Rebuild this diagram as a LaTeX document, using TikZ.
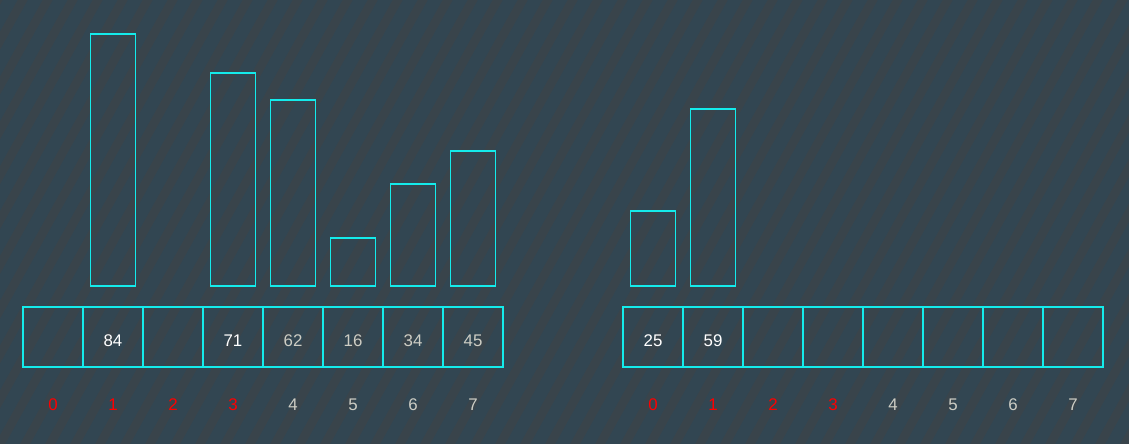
\documentclass[tikz,border=0pt]{standalone}
\usepackage{fontspec}
\setmainfont{Liberation Sans}
\definecolor{bgslate}{RGB}{50,70,82}
\definecolor{stripebrown}{RGB}{74,66,62}
\definecolor{cellcyan}{RGB}{20,235,235}
\definecolor{palegray}{RGB}{205,205,196}
\definecolor{idxred}{RGB}{255,0,0}
\tikzset{
  cell/.style={draw=cellcyan,line width=0.75pt,minimum size=1.2cm,inner sep=0pt,outer sep=0pt},
  bar/.style={draw=cellcyan,line width=0.75pt},
  val/.style={font=\fontsize{9.6}{10}\selectfont,inner sep=0pt},
  idx/.style={font=\fontsize{9.6}{10}\selectfont,inner sep=0pt},
  stripe/.style={draw=stripebrown,line width=5pt,opacity=0.3},
}
\begin{document}
\begin{tikzpicture}[x=0.02cm,y=-0.02cm]
    % background
    \useasboundingbox (0,0) rectangle (1129,443);
    \fill[bgslate] (-10,-10) rectangle (1139,453);
    \begin{scope}
      \clip (-10,-10) rectangle (1139,453);
      \foreach \s in {-320,-295,...,1150}
        \draw[stripe] (\s,480)--++(290,-520);
    \end{scope}
    % left array
    \foreach \i in {0,...,7}
      \node[cell] (l\i) at (53+60*\i,337) {};
    \foreach \i/\v/\c in {1/84/white,3/71/white,4/62/palegray,5/16/palegray,6/34/palegray,7/45/palegray}{
      \draw[bar] (30.5+60*\i,286) rectangle (75.5+60*\i,286-3*\v);
      \node[val,text=\c] (lv\i) at (53+60*\i,341) {\v};
    }
    % right array
    \foreach \i in {0,...,7}
      \node[cell] (r\i) at (653+60*\i,337) {};
    \foreach \i/\v in {0/25,1/59}{
      \draw[bar] (630.5+60*\i,286) rectangle (675.5+60*\i,286-3*\v);
      \node[val,text=white] (rv\i) at (653+60*\i,341) {\v};
    }
    % indices
    \foreach \i/\c in {0/idxred,1/idxred,2/idxred,3/idxred,4/palegray,5/palegray,6/palegray,7/palegray}{
      \node[idx,text=\c] (li\i) at (53+60*\i,405) {\i};
      \node[idx,text=\c] (ri\i) at (653+60*\i,405) {\i};
    }
\end{tikzpicture}
\end{document}
